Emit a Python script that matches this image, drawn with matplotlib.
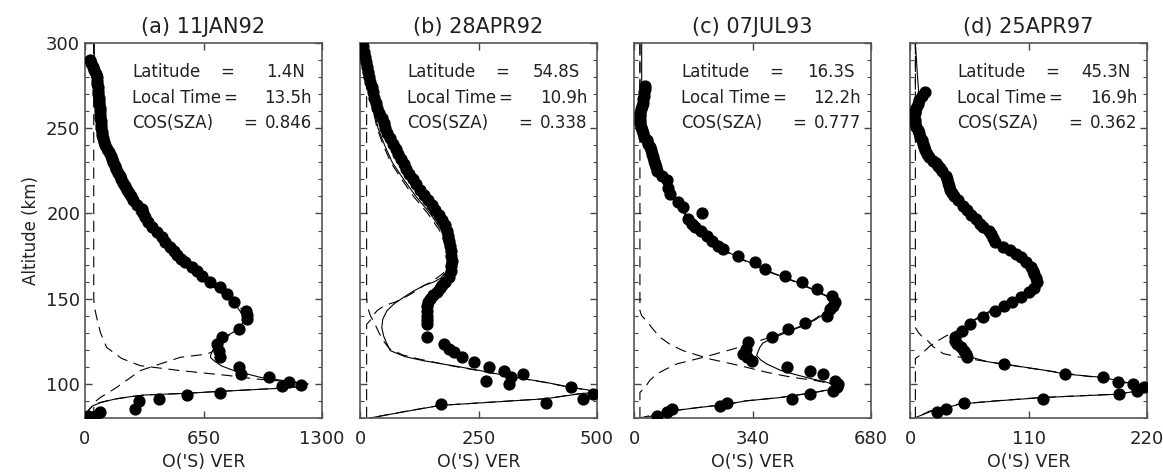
import numpy as np
import matplotlib
matplotlib.use('Agg')
import matplotlib.pyplot as plt

# panel info
titles = ['(a) 11JAN92', '(b) 28APR92', '(c) 07JUL93', '(d) 25APR97']
xmax = [1300, 500, 680, 220]
xticklabels = [['0', '650', '1300'], ['0', '250', '500'], ['0', '340', '680'], ['0', '110', '220']]
latitude = ['1.4N', '54.8S', '16.3S', '45.3N']
local_time = ['13.5h', '10.9h', '12.2h', '16.9h']
cos_sza = ['0.846', '0.338', '0.777', '0.362']

# observed O(1S) VER points, (altitude km, VER)
a_obs = [(290, 27), (288, 35), (286, 46), (284, 52), (282, 58), (280, 64), (278, 66), (276, 68),
         (274, 70), (272, 72), (270, 74), (268, 76), (266, 77), (264, 79), (262, 80), (260, 82),
         (258, 83), (256, 85), (254, 86), (252, 87), (250, 88), (248, 91), (246, 95), (244, 99),
         (242, 105), (240, 112), (238, 120), (236, 132), (234, 140), (232, 147), (230, 155),
         (228, 163), (226, 171), (224, 180), (222, 190), (220, 199), (218, 208), (216, 218),
         (214, 228), (212, 240), (210, 252), (208, 264), (205, 285), (202.8, 312), (200, 318),
         (197.9, 330), (195, 348), (192, 367), (189, 395), (186, 420), (183.3, 440), (180.3, 468),
         (177.8, 488), (175.4, 505), (173.4, 528), (171.4, 551), (168.5, 588), (166, 615),
         (163.6, 643), (159.7, 688), (156.7, 743), (152.8, 780), (147.9, 817), (143.0, 881),
         (140.5, 888), (138.1, 891), (132.2, 844), (127.3, 753), (123.4, 725), (119.5, 734),
         (115.6, 743), (109.7, 844), (105.8, 854), (103.8, 1010), (100.9, 1120), (98.9, 1083),
         (99.5, 1184), (94.7, 743), (93.4, 560), (91.1, 404), (90.1, 294), (85.2, 275),
         (83.3, 83), (81.3, 55), (81.3, 18)]
b_obs = [(298, 7), (295, 8), (292, 10), (289, 12), (286, 14), (283, 17), (280, 20), (277, 22),
         (274, 25), (271, 28), (268, 30), (265, 33), (262, 36), (259, 41), (256, 46), (253, 51),
         (250, 53), (247, 57), (244, 63), (241, 69), (238, 76), (235, 81), (232, 87), (229, 92),
         (226, 98), (223, 104), (220, 111), (217, 119), (214, 127), (211, 135), (208, 143),
         (205, 151), (202, 159), (199, 167), (196, 174), (193, 180), (190, 184), (187, 186),
         (184, 188), (181, 190), (178, 192), (175, 193), (172, 194), (169, 193), (166, 192),
         (163, 188), (160, 180), (158, 174), (156, 168), (154, 162), (152, 155), (150, 148),
         (148, 144), (146, 142), (143, 141), (140, 141), (137.5, 141), (135.2, 141), (127.3, 141),
         (123.4, 177), (120.5, 188), (118.5, 199), (115.6, 215), (112.7, 240), (110, 272),
         (107.8, 304), (105.8, 343), (104, 318), (102, 265), (100, 314), (98, 445), (94, 491),
         (91, 470), (89, 392), (88, 170)]
c_obs = [(275, 32), (273, 31), (271, 30), (269, 29), (267, 27), (265, 25), (263, 22), (261, 20),
         (259, 18), (257, 17), (255, 17), (253, 18), (251, 19), (249, 22), (247, 26), (245, 30),
         (243, 36), (241, 41), (239, 45), (237, 48), (235, 52), (233, 55), (231, 58), (229, 60),
         (227, 63), (225, 65), (222, 80), (219.4, 94), (215, 98), (211.6, 103), (207, 125),
         (203.8, 141), (200, 194), (196.9, 156), (194, 165), (192, 175), (189.5, 192), (187, 209),
         (184, 223), (181, 240), (179, 256), (175.3, 299), (171.4, 347), (167.5, 376),
         (163.6, 433), (159.7, 481), (155.8, 524), (151.8, 567), (148, 577), (146, 572),
         (144, 562), (140, 553), (136, 491), (132.2, 443), (127.3, 395), (124.4, 328),
         (120.5, 320), (117.5, 314), (115.5, 325), (113.6, 338), (109.7, 438), (107.8, 505),
         (105.8, 543), (102, 577), (100, 585), (98, 582), (96, 572), (94, 505), (91, 452),
         (89, 266), (87.2, 247), (85, 108), (83.3, 94), (81.3, 65)]
d_obs = [(271.4, 14), (269, 11), (266.5, 8), (264, 7), (262, 6), (260, 5), (258.7, 5), (255, 5),
         (253, 5), (250.8, 6), (249, 7), (247, 8), (245, 9), (243, 11), (241, 12), (239, 13),
         (237, 14), (235, 16), (233, 18), (231, 21), (229.5, 24), (228, 26), (226.5, 28),
         (225, 30), (222, 33), (220, 34), (218, 35), (216, 36), (213.6, 37), (212, 39), (210, 41),
         (207.7, 45), (204.5, 49), (201.8, 53), (199, 57), (196.9, 61), (194, 65), (192, 68),
         (190, 73), (188, 75), (185.5, 77), (183.2, 79), (180.5, 86), (178.3, 93), (176, 98),
         (174.4, 103), (171.5, 108), (168.5, 112), (166.5, 114), (164.6, 115), (162, 117),
         (159.7, 118), (156.5, 115), (153.8, 110), (151, 103), (148, 95), (145.5, 87), (143, 79),
         (139, 68), (135.2, 56), (131.3, 48), (127.3, 42), (125.4, 42), (123.4, 44), (121.5, 47),
         (119.5, 50), (117.5, 52), (115.6, 53), (111.7, 87), (105.8, 144), (103.8, 179),
         (100.9, 193), (100, 207), (96, 211), (98, 217), (94, 194), (91, 123), (89, 50), (85, 33),
         (83.3, 25)]

# model total (solid)
a_fit = [(300, 50), (290, 50), (280, 55), (270, 62), (260, 70), (250, 82), (240, 100), (230, 130),
         (220, 175), (210, 228), (200, 290), (190, 370), (180, 455), (170, 555), (160, 670),
         (150, 785), (145, 835), (140, 868), (137, 872), (132.2, 845), (127.3, 762), (121.4, 707),
         (117, 690), (115.6, 688), (113.6, 707), (110.5, 750), (107.8, 817), (103.8, 964),
         (101.5, 1120), (100, 1225), (98.5, 1190), (97.5, 1080), (96.5, 900), (95.5, 720),
         (94.5, 560), (93.5, 330), (92.5, 250), (91, 160), (89, 83), (87, 40), (84, 15), (80, 0)]
b_fit = [(300, 3), (290, 8), (280, 15), (270, 22), (260, 30), (250, 38), (240, 52), (230, 68),
         (220, 92), (210, 118), (200, 148), (190, 172), (180, 185), (172, 188), (166, 183),
         (162, 170), (159.7, 155), (157.6, 134), (154, 110), (150.8, 92), (147, 72), (143, 57),
         (138, 48), (133, 46), (128, 50), (124, 56), (119.5, 64), (116, 95), (113.6, 134),
         (110.5, 200), (107.8, 254), (104, 325), (101, 390), (98, 445), (96.5, 480), (95, 498),
         (94.3, 466), (91.3, 392), (89.5, 290), (87.4, 170), (84, 100), (80, 21)]
c_fit = [(300, 22), (278, 22), (272, 25), (266, 22), (260, 18), (255, 18), (250, 21), (245, 28),
         (240, 38), (235, 48), (230, 57), (225, 66), (220, 82), (215, 98), (210, 112), (205, 128),
         (200, 148), (195, 165), (190, 185), (185, 213), (180, 245), (175, 292), (170, 345),
         (165, 400), (160, 465), (155, 520), (151, 560), (148, 570), (145, 563), (141, 545),
         (137.6, 520), (134, 485), (131.3, 450), (127, 400), (124, 370), (121.4, 361), (118, 354),
         (116.6, 352), (114, 364), (111.7, 381), (108, 420), (105.8, 457), (103, 510), (101, 553),
         (99, 578), (98, 582), (97, 570), (95, 520), (93.5, 470), (92, 420), (90, 320), (88, 266),
         (86, 180), (84, 103), (82, 60), (79.4, 27)]
d_fit = [(300, 5), (290, 6), (280, 7), (272, 8), (265, 6), (258, 5), (250, 6), (245, 8), (240, 11),
         (235, 15), (230, 19), (225, 26), (220, 32), (215, 36), (210, 40), (205, 46), (200, 53),
         (195, 61), (190, 70), (185, 77), (180, 86), (175, 97), (170, 108), (165, 114), (160, 117),
         (156, 114), (152, 105), (148, 94), (144, 80), (140, 68), (136, 56), (132, 47), (128, 42),
         (125, 41), (122, 43), (119, 47), (116, 55), (113, 72), (111.7, 87), (108, 125),
         (105.8, 144), (103.8, 179), (101, 200), (99, 215), (98, 220), (97, 221), (96, 212),
         (94, 194), (92, 123), (90, 80), (88.2, 47), (84, 20), (80, 4)]

# E-region component (dashed, from the top)
a_e = [(300, 48), (150, 48), (145, 52), (139, 64), (130, 85), (121.4, 119), (115, 200),
       (110.7, 303), (107.8, 523), (105, 780), (103, 926), (101.5, 1100), (100, 1215),
       (98.5, 1185), (97.5, 1075), (96.5, 895), (95.5, 715), (94.5, 555), (93.5, 325),
       (92.5, 245), (91, 155), (89, 80), (87, 40), (84, 15), (80, 0)]
b_e = [(300, 14), (150, 14), (145, 16), (140, 22), (136, 30), (130, 40), (125, 50), (120.7, 62),
       (117, 90), (114.6, 124), (110.7, 191), (107.8, 250), (104, 322), (101, 388), (98, 443),
       (96.5, 478), (95, 496), (94.3, 464), (91.3, 390), (89.5, 288), (87.4, 168), (84, 98),
       (80, 20)]
c_e = [(300, 17), (143, 17), (140, 22), (137, 36), (132, 55), (127.3, 75), (123, 105),
       (119.5, 141), (114.6, 218), (110.7, 304), (106.8, 381), (104, 450), (102, 520), (100, 568),
       (98, 580), (97, 568), (95, 518), (93.5, 468), (92, 418), (90, 318), (88, 264), (86, 178),
       (84, 101), (82, 58), (80, 17)]
d_e = [(300, 5), (133, 5), (130, 8), (127.3, 12), (125, 17), (121.6, 22), (117.7, 31),
       (115.6, 47), (113, 72), (110, 103), (107, 136), (104, 170), (101, 197), (99, 212),
       (98, 218), (97, 220), (96, 211), (94, 192), (92, 121), (90, 78), (88.2, 45), (84, 18),
       (80, 5)]

# F-region component (dashed, from the bottom)
a_f = [(80, 45), (89, 50), (92, 83), (95, 130), (98, 174), (103, 240), (107.8, 303), (112, 420),
       (115.6, 523), (117.5, 670), (119, 700), (121.4, 712), (127, 765), (132, 850), (138, 872),
       (143, 872), (148, 810), (156, 735), (164, 630), (172, 530), (180, 450), (190, 365),
       (200, 283), (210, 222), (220, 170), (230, 128), (240, 98), (250, 80), (260, 68),
       (280, 55), (300, 48)]
b_f = [(80, 14), (135, 14), (137, 21), (140, 27), (143, 36), (146, 52), (148, 74), (150.8, 95),
       (154, 115), (157.6, 134), (160, 152), (165, 176), (172, 185), (180, 182), (190, 168),
       (200, 143), (210, 113), (220, 88), (230, 65), (240, 49), (250, 36), (260, 28), (270, 20),
       (280, 13), (290, 7), (300, 3)]
c_f = [(80, 17), (95, 17), (98, 32), (102, 45), (105.8, 65), (108.5, 90), (111.7, 122),
       (115.6, 199), (120.5, 285), (125.4, 361), (128, 400), (131.3, 445), (134, 480),
       (137.6, 515), (141, 540), (145, 558), (148, 565), (151, 556), (155, 516), (160, 460),
       (165, 396), (170, 340), (175, 288), (180, 240), (185, 208), (190, 180), (195, 160),
       (200, 143), (205, 124), (210, 108), (215, 94), (220, 78), (225, 62), (230, 52), (235, 44),
       (240, 34), (245, 24), (250, 17), (300, 17)]
d_f = [(80, 5), (115, 5), (116.6, 9), (119, 13), (122.5, 19), (125, 25), (128, 33), (130, 40),
       (132, 46), (136, 55), (140, 66), (144, 78), (148, 92), (152, 103), (156, 112), (160, 115),
       (165, 112), (170, 106), (175, 95), (180, 84), (185, 75), (190, 68), (195, 59), (200, 51),
       (205, 44), (210, 38), (215, 34), (220, 30), (225, 24), (230, 17), (235, 13), (240, 9),
       (250, 5), (300, 5)]

obs = [a_obs, b_obs, c_obs, d_obs]
fits = [a_fit, b_fit, c_fit, d_fit]
e_comp = [a_e, b_e, c_e, d_e]
f_comp = [a_f, b_f, c_f, d_f]

plt.rcParams['font.family'] = 'DejaVu Sans'
fig = plt.figure(figsize=(11.63, 4.72), dpi=100)

lefts = [85, 360, 634, 910]
txt = '#222222'
for i in range(4):
    ax = fig.add_axes([lefts[i] / 1163, 54 / 472, 237 / 1163, 375 / 472])

    o = np.array(obs[i])
    ax.plot(o[:, 1], o[:, 0], 'o', color='black', ms=7.8, zorder=3)
    s = np.array(fits[i])
    ax.plot(s[:, 1], s[:, 0], '-', color='black', lw=0.8, zorder=2)
    for comp in (e_comp[i], f_comp[i]):
        c = np.array(comp)
        ax.plot(c[:, 1], c[:, 0], color='black', lw=0.8, dashes=(10, 6), zorder=2)

    ax.set_xlim(0, xmax[i])
    ax.set_ylim(80, 300)
    ax.set_xticks([0, xmax[i] / 2, xmax[i]])
    ax.set_xticklabels(xticklabels[i], fontsize=13, color=txt)
    ax.set_yticks([100, 150, 200, 250, 300])
    ax.set_yticks(np.arange(80, 301, 10), minor=True)
    ax.tick_params(which='both', direction='in', top=True, right=True, color='#444444')
    ax.tick_params(which='major', length=5, width=1)
    ax.tick_params(which='minor', length=3, width=0.8)
    ax.tick_params(axis='x', pad=9)
    if i == 0:
        ax.set_yticklabels(['100', '150', '200', '250', '300'], fontsize=13, color=txt)
        ax.set_ylabel('Altitude (km)', fontsize=12, color=txt, labelpad=4)
    else:
        ax.set_yticklabels([])
    for sp in ax.spines.values():
        sp.set_color('#555555')
        sp.set_linewidth(1.2)

    ax.set_xlabel("O('S) VER", fontsize=12.5, color=txt, labelpad=3)
    ax.set_title(titles[i], fontsize=15, color=txt, pad=7)

    kw = dict(transform=ax.transAxes, fontsize=12, color=txt, va='center')
    ax.text(0.2, 0.923, 'Latitude', **kw)
    ax.text(0.572, 0.923, '=', **kw)
    ax.text(0.93, 0.923, latitude[i], ha='right', **kw)
    ax.text(0.2, 0.853, 'Local Time', **kw)
    ax.text(0.585, 0.853, '=', **kw)
    ax.text(0.958, 0.853, local_time[i], ha='right', **kw)
    ax.text(0.2, 0.787, 'COS(SZA)', **kw)
    ax.text(0.669, 0.787, '=', **kw)
    ax.text(0.958, 0.787, cos_sza[i], ha='right', **kw)

fig.savefig('out.png', dpi=100)
